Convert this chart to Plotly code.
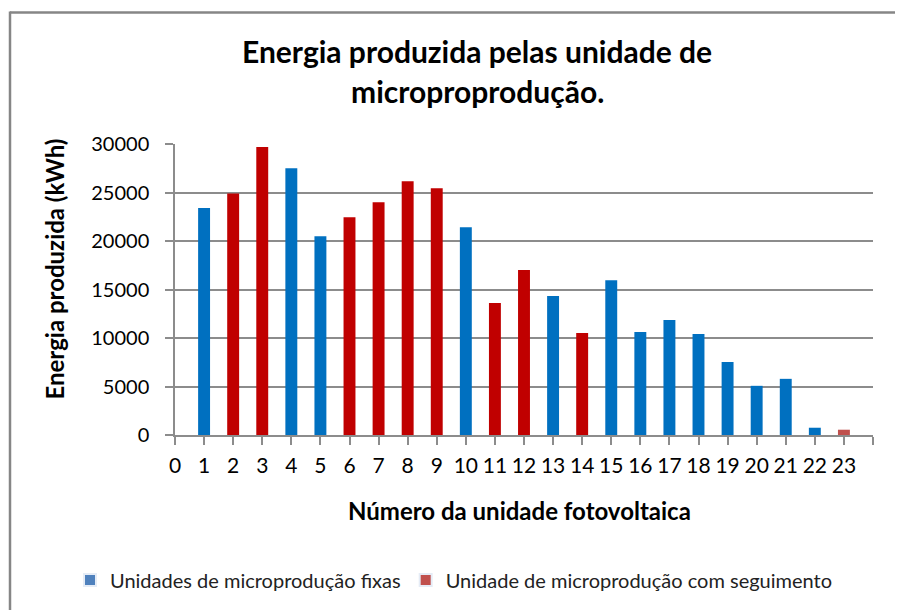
import plotly.graph_objects as go

# ---- data ----
unidades = list(range(1, 24))
energia_kwh = [23400, 24900, 29700, 27500, 20500, 22450, 24000, 26150, 25430, 21420,
               13600, 17000, 14320, 10510, 15960, 10610, 11850, 10410, 7530, 5070,
               5790, 750, 545]
tipo = ["F", "S", "S", "F", "F", "S", "S", "S", "S", "F",
        "S", "S", "F", "S", "F", "F", "F", "F", "F", "F",
        "F", "F", "S"]
x_tick_vals = list(range(0, 25))
x_tick_text = [str(v) for v in range(0, 24)] + [""]
y_tick_vals = [0, 5000, 10000, 15000, 20000, 25000, 30000]
y_tick_text = [str(v) for v in y_tick_vals]

serie_fixa = "Unidades de microprodução fixas"
serie_seg = "Unidade de microprodução com seguimento"
titulo_l1 = "Energia produzida pelas unidade de"
titulo_l2 = "microproprodução."
x_titulo = "Número da unidade fotovoltaica"
y_titulo = "Energia produzida (kWh)"

# ---- styles ----
COL_F = "#0070C0"
COL_S = "#C00000"
COL_S_LAST = "#C0504D"
LEG_F = "#4F81BD"
LEG_S = "#C0504D"
GRAY = "#8C8C8C"
FONT = "Lato"

OFF = 8  # page body margin
W, H = 903 - OFF, 610 - OFF
# plot area in screenshot pixels
L, R, T, B = 175, 873, 144, 436
Lf, Rf, Tf, Bf = L - OFF, R - OFF, T - OFF, B - OFF

xf = [u for u, t in zip(unidades, tipo) if t == "F"]
yf = [e for e, t in zip(energia_kwh, tipo) if t == "F"]
xs = [u for u, t in zip(unidades, tipo) if t == "S"]
ys = [e for e, t in zip(energia_kwh, tipo) if t == "S"]
cs = [COL_S] * (len(xs) - 1) + [COL_S_LAST]

fig = go.Figure()
fig.add_trace(go.Bar(x=xf, y=yf, width=0.41, marker=dict(color=COL_F, line=dict(width=0)),
                     showlegend=False, name=serie_fixa))
fig.add_trace(go.Bar(x=xs, y=ys, width=0.41, marker=dict(color=cs, line=dict(width=0)),
                     showlegend=False, name=serie_seg))
fig.add_trace(go.Bar(x=[None], y=[None], marker=dict(color=LEG_F), name=serie_fixa))
fig.add_trace(go.Bar(x=[None], y=[None], marker=dict(color=LEG_S), name=serie_seg))

pw, ph = R - L, B - T

def px2paper_x(px):
    return (px - L) / pw

def px2paper_y(py):
    return (B - py) / ph

fig.update_layout(
    width=W, height=H,
    margin=dict(l=Lf, r=W - Rf, t=Tf, b=H - Bf, pad=0),
    paper_bgcolor="white", plot_bgcolor="white",
    barmode="overlay",
    font=dict(family=FONT, size=21, color="black"),
    showlegend=True,
    legend=dict(orientation="h", x=px2paper_x(70), xanchor="left",
                y=px2paper_y(580), yanchor="middle",
                font=dict(family=FONT, size=20, color="#222"),
                itemsizing="constant", tracegroupgap=0, itemwidth=30,
                borderwidth=0),
    xaxis=dict(range=[0, 24], tickmode="array", tickvals=x_tick_vals, ticktext=x_tick_text,
               showgrid=False, zeroline=False, showline=True, linecolor=GRAY, linewidth=1.5,
               ticks="outside", ticklen=8, tickwidth=1.5, tickcolor=GRAY,
               tickfont=dict(family=FONT, size=21, color="black"), ticklabelstandoff=3,
               fixedrange=True),
    yaxis=dict(range=[0, 30000], tickmode="array", tickvals=y_tick_vals, ticktext=y_tick_text,
               showgrid=True, gridcolor=GRAY, gridwidth=1.5, zeroline=False,
               showline=True, linecolor=GRAY, linewidth=1.5,
               ticks="outside", ticklen=8, tickwidth=1.5, tickcolor=GRAY,
               tickfont=dict(family=FONT, size=20, color="black"), ticklabelstandoff=12,
               fixedrange=True),
)

# title lines
fig.add_annotation(text="<b>" + titulo_l1 + "</b>", xref="paper", yref="paper",
                   x=px2paper_x(477), y=px2paper_y(51), xanchor="center", yanchor="middle",
                   showarrow=False, font=dict(family=FONT, size=30, color="black"))
fig.add_annotation(text="<b>" + titulo_l2 + "</b>", xref="paper", yref="paper",
                   x=px2paper_x(477), y=px2paper_y(91), xanchor="center", yanchor="middle",
                   showarrow=False, font=dict(family=FONT, size=30, color="black"))
# axis titles
fig.add_annotation(text="<b>" + x_titulo + "</b>", xref="paper", yref="paper",
                   x=px2paper_x(519), y=px2paper_y(512), xanchor="center", yanchor="middle",
                   showarrow=False, font=dict(family=FONT, size=24, color="black"))
fig.add_annotation(text="<b>" + y_titulo + "</b>", xref="paper", yref="paper",
                   x=px2paper_x(55), y=px2paper_y(270), xanchor="center", yanchor="middle",
                   textangle=-90, showarrow=False, font=dict(family=FONT, size=24, color="black"))

# chart border: only top and left edges are visible in the reference
fig.add_shape(type="line", xref="paper", yref="paper",
              x0=px2paper_x(10), x1=px2paper_x(910), y0=px2paper_y(12), y1=px2paper_y(12),
              line=dict(color="#868686", width=2.5), layer="above")
fig.add_shape(type="line", xref="paper", yref="paper",
              x0=px2paper_x(10), x1=px2paper_x(10), y0=px2paper_y(11), y1=px2paper_y(620),
              line=dict(color="#868686", width=2.5), layer="above")

fig.write_html("out.html")
